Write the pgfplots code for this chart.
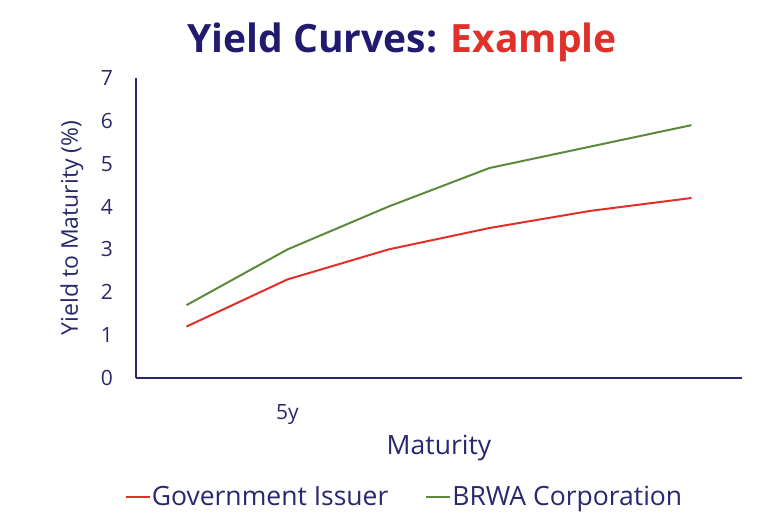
\documentclass[border=0pt]{standalone}
\usepackage{fontspec}
\setmainfont{Open Sans}
\usepackage{pgfplots}
\pgfplotsset{compat=1.18}
\definecolor{navy}{HTML}{2A276C}
\definecolor{titlenavy}{HTML}{221A6E}
\definecolor{govred}{HTML}{E0302A}
\definecolor{corpgreen}{HTML}{5B8A3E}
\begin{document}
\begin{tikzpicture}
\useasboundingbox (-136pt,-138pt) rectangle (628pt,378pt);
\begin{axis}[
  at={(0pt,0pt)}, anchor=south west,
  scale only axis, width=606pt, height=300pt,
  xmin=-0.5, xmax=5.5, ymin=0, ymax=7,
  axis lines=left,
  axis line style={-, navy, line width=2.2pt},
  xtick={1}, xticklabels={5y},
  ytick={0,1,...,7},
  major tick length=0pt,
  /pgf/number format/assume math mode=true,
  tick label style={font=\fontsize{21}{25}\selectfont, text=navy},
  yticklabel style={anchor=east, inner sep=0pt, xshift=-23pt},
  xticklabel style={anchor=north, inner sep=0pt, yshift=-26pt},
  xlabel={Maturity},
  ylabel={Yield to Maturity (\%)},
  xlabel style={font=\fontsize{26.5}{30}\selectfont, text=navy,
    at={(axis description cs:0.5,0)}, anchor=center, yshift=-70pt},
  ylabel style={font=\fontsize{23}{27}\selectfont, text=navy,
    at={(axis description cs:0,0.5)}, anchor=center, rotate=0, yshift=64pt},
  legend columns=2,
  legend cell align=left,
  legend image code/.code={\draw[#1] (0pt,0pt) -- (24pt,0pt);},
  legend style={at={(axis description cs:0.5,0)}, anchor=center,
    xshift=-35pt, yshift=-119pt, draw=none, fill=none,
    font=\fontsize{26.5}{30}\selectfont, text=navy,
    nodes={inner sep=1pt},
    /tikz/every even column/.append style={column sep=36pt}},
]
\addplot[govred, line width=2pt] coordinates
  {(0,1.2) (1,2.3) (2,3.0) (3,3.5) (4,3.9) (5,4.2)};
\addplot[corpgreen, line width=2pt] coordinates
  {(0,1.7) (1,3.0) (2,4.0) (3,4.9) (4,5.4) (5,5.9)};
\legend{Government Issuer, BRWA Corporation}
\end{axis}
\node[font=\fontsize{39}{45}\selectfont\bfseries, anchor=base] at (266pt,325pt)
  {\textcolor{titlenavy}{Yield Curves:} \textcolor{govred}{Example}};
\end{tikzpicture}
\end{document}
